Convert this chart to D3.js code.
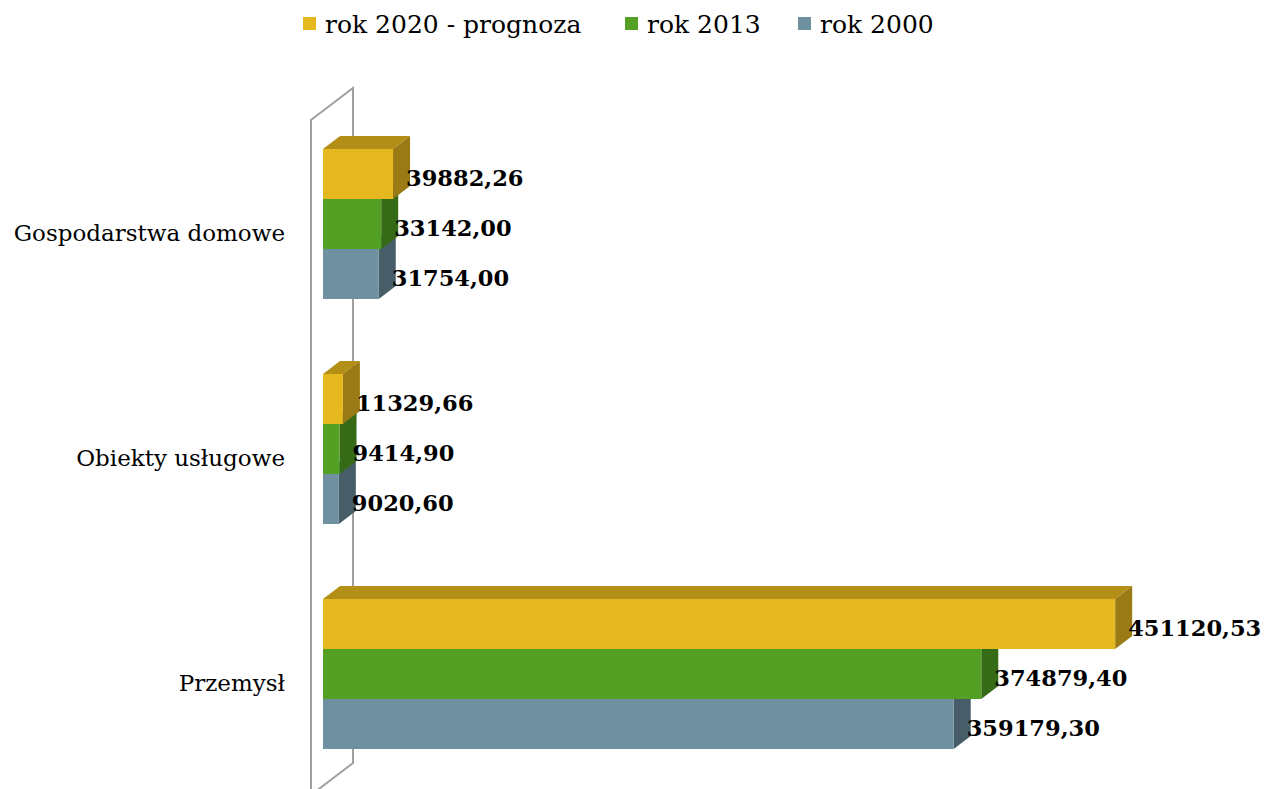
<!DOCTYPE html>
<html><head><meta charset="utf-8">
<script src="https://cdn.jsdelivr.net/npm/d3@7"></script>
<style>
body{margin:0;background:#fff;}
svg{display:block;}
</style></head>
<body>
<svg id="chart" width="1265" height="789"></svg>
<script>
const categories = ["Gospodarstwa domowe", "Obiekty usługowe", "Przemysł"];
const seriesNames = ["rok 2020 - prognoza", "rok 2013", "rok 2000"];
const values2020 = [39882.26, 11329.66, 451120.53];
const values2013 = [33142.00, 9414.90, 374879.40];
const values2000 = [31754.00, 9020.60, 359179.30];
const valueLabels2020 = ["39882,26", "11329,66", "451120,53"];
const valueLabels2013 = ["33142,00", "9414,90", "374879,40"];
const valueLabels2000 = ["31754,00", "9020,60", "359179,30"];

const seriesValues = [values2020, values2013, values2000];
const seriesLabels = [valueLabels2020, valueLabels2013, valueLabels2000];
const frontColors = ["#E6B820", "#53A024", "#6F919F"];
const topColors = ["#B38F18", "#3E7A1B", "#55707B"];
const sideColors = ["#9A7A14", "#356A17", "#475E68"];

const svg = d3.select("#chart");
const x = d3.scaleLinear().domain([0, 500000]).range([323, 1201]);
const y = d3.scaleBand().domain(categories).range([111.5, 786.5]).paddingInner(1/3).paddingOuter(1/6);
const ys = d3.scaleBand().domain(seriesNames).range([0, y.bandwidth()]);
const dx = 17, dy = 13;

// wall
const x0 = x(0);
const wall = svg.append("g").attr("fill", "none").attr("stroke", "#A0A0A0").attr("stroke-width", 2);
wall.append("path").attr("d", `M${x0-12},800 L${x0-12},120 L${x0+30},88 L${x0+30},763 L${x0-12},795`);

// bars: draw bottom series first so upper ones overlap
const g = svg.append("g");
for (let s = seriesNames.length - 1; s >= 0; s--) {
  categories.forEach((c, i) => {
    const v = seriesValues[s][i];
    const y0 = y(c) + ys(seriesNames[s]);
    const h = ys.bandwidth();
    const xl = x(0), xr = x(v);
    g.append("path")
      .attr("d", `M${xl},${y0} L${xl+dx},${y0-dy} L${xr+dx},${y0-dy} L${xr},${y0} Z`)
      .attr("fill", topColors[s]);
    g.append("path")
      .attr("d", `M${xr},${y0} L${xr+dx},${y0-dy} L${xr+dx},${y0+h-dy} L${xr},${y0+h} Z`)
      .attr("fill", sideColors[s]);
    g.append("rect").attr("x", xl).attr("y", y0).attr("width", xr - xl).attr("height", h)
      .attr("fill", frontColors[s]);
  });
}

// value labels
const lg = svg.append("g").attr("font-family", "DejaVu Serif").attr("font-weight", "bold")
  .attr("font-size", 22.5).attr("fill", "#000");
seriesNames.forEach((sn, s) => {
  categories.forEach((c, i) => {
    const v = seriesValues[s][i];
    const yc = y(c) + ys(sn) + ys.bandwidth() / 2;
    lg.append("text").attr("x", x(v) + 13).attr("y", yc + 12).text(seriesLabels[s][i]);
  });
});

// category labels
svg.append("g").attr("font-family", "DejaVu Serif").attr("font-size", 23).attr("fill", "#000")
  .selectAll("text").data(categories).join("text")
  .attr("x", 285).attr("y", d => y(d) + y.bandwidth() / 2 + 17)
  .attr("text-anchor", "end").text(d => d);

// legend
const legendX = [303, 625, 798];
const leg = svg.append("g").attr("font-family", "DejaVu Serif").attr("font-size", 25).attr("fill", "#000");
seriesNames.forEach((sn, s) => {
  leg.append("rect").attr("x", legendX[s]).attr("y", 17).attr("width", 13).attr("height", 13).attr("fill", frontColors[s]);
  leg.append("text").attr("x", legendX[s] + 22).attr("y", 33).text(sn);
});
</script>
</body></html>
